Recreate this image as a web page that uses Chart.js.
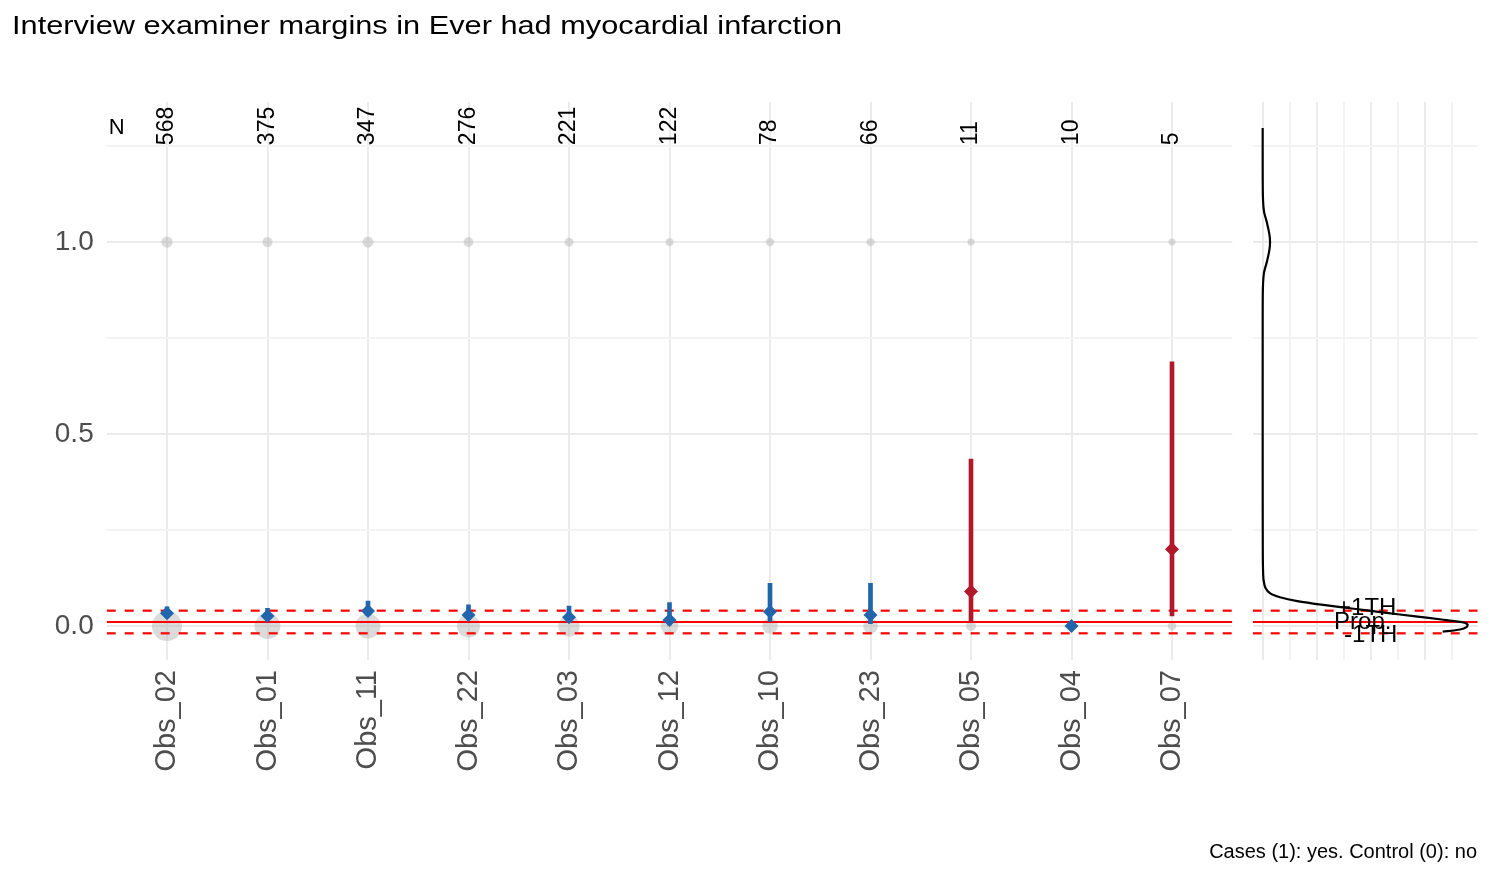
<!DOCTYPE html>
<html>
<head>
<meta charset="utf-8">
<script src="https://cdn.jsdelivr.net/npm/chart.js@4"></script>
<style>
  body { margin: 0; background: #fff; }
  #wrap { position: relative; width: 1504px; height: 874px; }
  #main { position: absolute; left: 0; top: 0; }
  #dens { position: absolute; left: 1160px; top: 0; }
</style>
</head>
<body>
<div id="wrap">
  <canvas id="main" width="1240" height="874"></canvas>
  <canvas id="dens" width="344" height="874"></canvas>
</div>
<script>
// examiners, sorted by number of subjects
const observers = ["Obs_02", "Obs_01", "Obs_11", "Obs_22", "Obs_03", "Obs_12", "Obs_10", "Obs_23", "Obs_05", "Obs_04", "Obs_07"];
const nTotal = [568, 375, 347, 276, 221, 122, 78, 66, 11, 10, 5];
const nCases = [20, 10, 18, 9, 5, 2, 3, 2, 1, 0, 1];
const estimate = [0.033, 0.026, 0.039, 0.029, 0.023, 0.016, 0.037, 0.029, 0.090, 0.0, 0.200];
const ciLow = [0.022, 0.015, 0.027, 0.017, 0.010, 0.003, 0.012, 0.006, 0.011, null, 0.026];
const ciHigh = [0.050, 0.046, 0.065, 0.055, 0.052, 0.061, 0.111, 0.111, 0.435, null, 0.688];

// overall proportion and thresholds
const propValue = 0.0105;
const upperTH = 0.040;
const lowerTH = -0.019;

// density of the estimates (value, density)
const densValue = [1.297, 1.2, 1.12, 1.08, 1.05, 1.02, 1.0, 0.98, 0.95, 0.92, 0.88, 0.8, 0.4, 0.2, 0.15, 0.12, 0.1, 0.085, 0.075, 0.065, 0.055, 0.045, 0.035, 0.025, 0.017, 0.01, 0.004, -0.003, -0.009, -0.015];
const densHeight = [0, 0, 0.02, 0.12, 0.4, 0.62, 0.68, 0.62, 0.4, 0.12, 0.02, 0, 0, 0.01, 0.03, 0.08, 0.25, 0.7, 1.6, 3.2, 5.6, 8.4, 11.2, 14.1, 16.5, 18.4, 18.9, 18.8, 18.2, 16.6];

const yTicks = [0, 0.25, 0.5, 0.75, 1.0, 1.25];
const titleText = "Interview examiner margins in Ever had myocardial infarction";
const captionText = "Cases (1): yes. Control (0): no";

const FONT = '"Liberation Sans", Arial, sans-serif';
const RED = "#B2182B", BLUE = "#2166AC";
const nControls = nTotal.map((n, i) => n - nCases[i]);
const maxCount = Math.max(...nControls);
function sizeFor(n) {
  if (!n) return 0;
  return 3.5 + 11.5 * Math.sqrt((n - 1) / (maxCount - 1));
}
const colorFor = i => estimate[i] > upperTH ? RED : BLUE;
const yMin = -0.0885, yMax = 1.365;

const yGrid = {
  color: c => (c.tick && c.tick.value * 2 % 1 === 0) ? "#EBEBEB" : "#F3F3F3",
  lineWidth: 2,
  drawTicks: false
};
// keep the panels exactly where the layout puts them
const noPad = s => { s.paddingLeft = 0; s.paddingRight = 0; s.paddingTop = 0; s.paddingBottom = 0; };

const mainText = {
  id: "mainText",
  afterDatasetsDraw(chart) {
    const { ctx, scales: { x, y } } = chart;
    ctx.save();
    ctx.fillStyle = "#000";
    ctx.font = "23px " + FONT;
    nTotal.forEach((n, i) => {
      ctx.save();
      ctx.translate(x.getPixelForValue(i + 1), y.getPixelForValue(1.25));
      ctx.rotate(-Math.PI / 2);
      ctx.textAlign = "left";
      ctx.textBaseline = "middle";
      ctx.fillText(String(n), 1, 0);
      ctx.restore();
    });
    ctx.font = "22px " + FONT;
    ctx.textAlign = "center";
    ctx.textBaseline = "middle";
    ctx.fillText("N", x.getPixelForValue(0.5), y.getPixelForValue(1.297));
    // title, stretched a little like the original
    ctx.font = "26px " + FONT;
    ctx.textAlign = "left";
    ctx.textBaseline = "alphabetic";
    const w = ctx.measureText(titleText).width;
    ctx.translate(12, 34);
    ctx.scale(830 / w, 1);
    ctx.fillText(titleText, 0, 0);
    ctx.restore();
  }
};

new Chart(document.getElementById("main"), {
  type: "scatter",
  data: {
    datasets: [
      {
        data: observers.map((o, i) => ({ x: i + 1, y: 0 })),
        pointRadius: c => sizeFor(nControls[c.dataIndex]),
        backgroundColor: "rgba(175,175,175,0.45)",
        borderWidth: 0,
        order: 6
      },
      {
        data: observers.map((o, i) => ({ x: i + 1, y: 1 })),
        pointRadius: c => sizeFor(nCases[c.dataIndex]),
        backgroundColor: "rgba(175,175,175,0.45)",
        borderWidth: 0,
        order: 6
      },
      {
        data: [{ x: 0.4, y: propValue }, { x: 11.6, y: propValue }],
        showLine: true, pointRadius: 0, borderColor: "#FF0000", borderWidth: 2.2, order: 4
      },
      {
        data: [{ x: 0.4, y: upperTH }, { x: 11.6, y: upperTH }],
        showLine: true, pointRadius: 0, borderColor: "#FF0000", borderWidth: 2.2, borderDash: [9, 9], order: 4
      },
      {
        data: [{ x: 0.4, y: lowerTH }, { x: 11.6, y: lowerTH }],
        showLine: true, pointRadius: 0, borderColor: "#FF0000", borderWidth: 2.2, borderDash: [9, 9], order: 4
      },
      {
        type: "bar",
        data: observers.map((o, i) => ({ x: i + 1, y: [ciLow[i], ciHigh[i]] })).filter(d => d.y[0] !== null),
        backgroundColor: c => colorFor(c.raw.x - 1),
        barThickness: 4,
        borderWidth: 0,
        order: 2
      },
      {
        data: observers.map((o, i) => ({ x: i + 1, y: estimate[i] })),
        pointStyle: "rectRot",
        pointRadius: 7,
        backgroundColor: c => colorFor(c.dataIndex),
        borderWidth: 0,
        order: 1
      }
    ]
  },
  options: {
    responsive: false,
    animation: false,
    events: [],
    layout: { autoPadding: false, padding: { left: 0, right: 7.7, top: 102, bottom: 0 } },
    plugins: { legend: { display: false }, tooltip: { enabled: false } },
    scales: {
      x: {
        type: "linear",
        offset: false,
        min: 0.4,
        max: 11.6,
        afterBuildTicks: s => { s.ticks = observers.map((o, i) => ({ value: i + 1 })); },
        afterFit: s => { s.height = 214; noPad(s); },
        grid: { color: "#EBEBEB", lineWidth: 2, drawTicks: false, offset: false },
        border: { display: false },
        ticks: {
          autoSkip: false,
          minRotation: 90,
          maxRotation: 90,
          padding: 10,
          color: "#4D4D4D",
          font: { family: FONT, size: 29 },
          callback: v => observers[v - 1] || ""
        }
      },
      y: {
        min: yMin,
        max: yMax,
        afterBuildTicks: s => { s.ticks = yTicks.map(v => ({ value: v })); },
        afterFit: s => { s.width = 106.7; noPad(s); },
        grid: yGrid,
        border: { display: false },
        ticks: {
          padding: 13,
          color: "#4D4D4D",
          font: { family: FONT, size: 28 },
          callback: v => (v * 2 % 1 === 0) ? v.toFixed(1) : ""
        }
      }
    }
  },
  plugins: [mainText]
});

const densLeft = 1160;
const densText = {
  id: "densText",
  afterDatasetsDraw(chart) {
    const { ctx, scales: { x, y } } = chart;
    ctx.save();
    ctx.fillStyle = "#000";
    ctx.font = "24px " + FONT;
    ctx.textAlign = "center";
    ctx.textBaseline = "middle";
    const lx = x.getPixelForValue(9.6);
    ctx.fillText("+1TH", lx, y.getPixelForValue(upperTH) - 2);
    ctx.fillText("Prop.", lx - 4, y.getPixelForValue(propValue));
    ctx.fillText("-1TH", lx + 4, y.getPixelForValue(lowerTH) + 2);
    ctx.font = "20px " + FONT;
    ctx.textAlign = "right";
    ctx.textBaseline = "alphabetic";
    ctx.fillText(captionText, 1477 - densLeft, 858);
    ctx.restore();
  }
};

const dMin = -0.92, dMax = 19.83;
new Chart(document.getElementById("dens"), {
  type: "scatter",
  data: {
    datasets: [
      {
        data: densValue.map((v, i) => ({ x: densHeight[i], y: v })),
        showLine: true, pointRadius: 0, borderColor: "#000", borderWidth: 2.2, tension: 0.25, order: 1
      },
      {
        data: [{ x: dMin, y: propValue }, { x: dMax, y: propValue }],
        showLine: true, pointRadius: 0, borderColor: "#FF0000", borderWidth: 2.2, order: 2
      },
      {
        data: [{ x: dMin, y: upperTH }, { x: dMax, y: upperTH }],
        showLine: true, pointRadius: 0, borderColor: "#FF0000", borderWidth: 2.2, borderDash: [9, 9], order: 2
      },
      {
        data: [{ x: dMin, y: lowerTH }, { x: dMax, y: lowerTH }],
        showLine: true, pointRadius: 0, borderColor: "#FF0000", borderWidth: 2.2, borderDash: [9, 9], order: 2
      }
    ]
  },
  options: {
    responsive: false,
    animation: false,
    events: [],
    layout: { autoPadding: false, padding: { left: 1252.7 - densLeft, right: 26.3, top: 102, bottom: 0 } },
    plugins: { legend: { display: false }, tooltip: { enabled: false } },
    scales: {
      x: {
        type: "linear",
        min: dMin,
        max: dMax,
        afterBuildTicks: s => { s.ticks = [0, 2.5, 5, 7.5, 10, 12.5, 15, 17.5].map(v => ({ value: v })); },
        afterFit: s => { s.height = 214; noPad(s); },
        grid: {
          color: c => (c.tick && c.tick.value % 5 === 0) ? "#EBEBEB" : "#F3F3F3",
          lineWidth: 2,
          drawTicks: false
        },
        border: { display: false },
        ticks: { display: false }
      },
      y: {
        min: yMin,
        max: yMax,
        afterBuildTicks: s => { s.ticks = yTicks.map(v => ({ value: v })); },
        afterFit: s => { s.width = 0; noPad(s); },
        grid: yGrid,
        border: { display: false },
        ticks: { display: false }
      }
    }
  },
  plugins: [densText]
});
</script>
</body>
</html>
